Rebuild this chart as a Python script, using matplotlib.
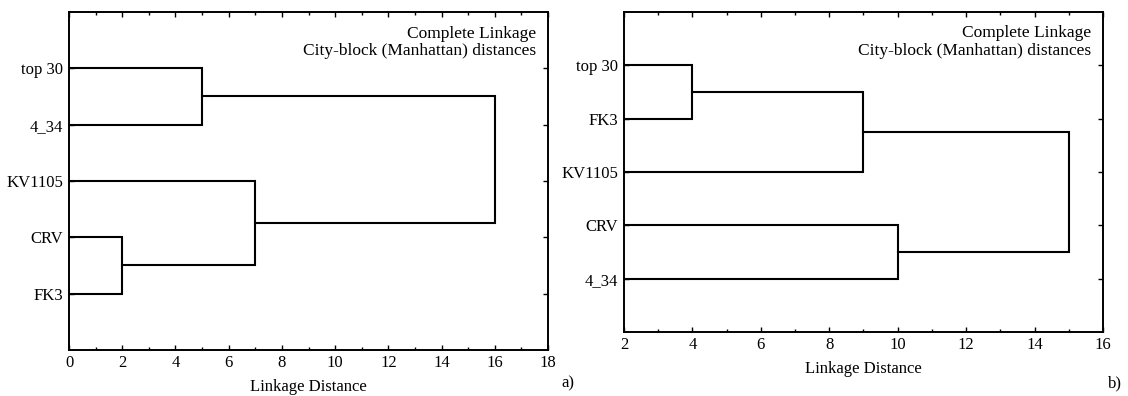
import matplotlib
matplotlib.use('Agg')
import matplotlib.pyplot as plt
from matplotlib.ticker import MultipleLocator

# leaf order (top to bottom) and merges: (cluster i, cluster j, linkage distance)
# clusters 0..4 are leaves, new clusters numbered 5, 6, ...
a_labels = ['top 30', '4_34', 'KV1105', 'CRV', 'FK3']
a_merges = [(3, 4, 2), (0, 1, 5), (2, 5, 7), (6, 7, 16)]
a_xlim = (0, 18)

b_labels = ['top 30', 'FK3', 'KV1105', 'CRV', '4_34']
b_merges = [(0, 1, 4), (5, 2, 9), (3, 4, 10), (6, 7, 15)]
b_xlim = (2, 16)

plt.rcParams['font.family'] = ['Liberation Serif', 'DejaVu Serif']
plt.rcParams['font.size'] = 12

fig = plt.figure(figsize=(11.28, 3.96), dpi=100)


def draw_tree(ax, labels, merges, xlim):
    nodes = {i: (i + 1, xlim[0]) for i in range(len(labels))}
    nid = len(labels)
    for i, j, d in merges:
        yi, hi = nodes[i]
        yj, hj = nodes[j]
        ax.plot([hi, d, d, hj], [yi, yi, yj, yj], color='black', lw=1.5,
                solid_joinstyle='miter')
        nodes[nid] = ((yi + yj) / 2, d)
        nid += 1
    ax.set_xlim(*xlim)
    ax.set_ylim(len(labels) + 1, 0)
    ax.set_yticks(range(1, len(labels) + 1))
    ax.set_yticklabels(labels)
    ax.xaxis.set_major_locator(MultipleLocator(2))
    ax.xaxis.set_minor_locator(MultipleLocator(1))
    ax.tick_params(which='both', direction='in', top=True, right=True,
                   width=1.0, labelsize=12)
    ax.tick_params(which='major', length=3.5)
    ax.tick_params(which='minor', length=2)
    ax.tick_params(axis='y', pad=4)
    for s in ax.spines.values():
        s.set_linewidth(1.4)
    ax.set_xlabel('Linkage Distance', fontsize=12, labelpad=6)
    ax.text(0.975, 0.96, 'Complete Linkage\nCity-block (Manhattan) distances',
            transform=ax.transAxes, ha='right', va='top', fontsize=12.5,
            linespacing=1.15)


ax_a = fig.add_axes([0.0612, 0.1162, 0.4246, 0.8535])
draw_tree(ax_a, a_labels, a_merges, a_xlim)

ax_b = fig.add_axes([0.5532, 0.1616, 0.4246, 0.8081])
draw_tree(ax_b, b_labels, b_merges, b_xlim)

fig.text(568 / 1128, 1 - 383 / 396, 'a)', ha='center', va='center', fontsize=12)
fig.text(1115 / 1128, 1 - 383 / 396, 'b)', ha='center', va='center', fontsize=12)

fig.savefig('out.png', dpi=100)
